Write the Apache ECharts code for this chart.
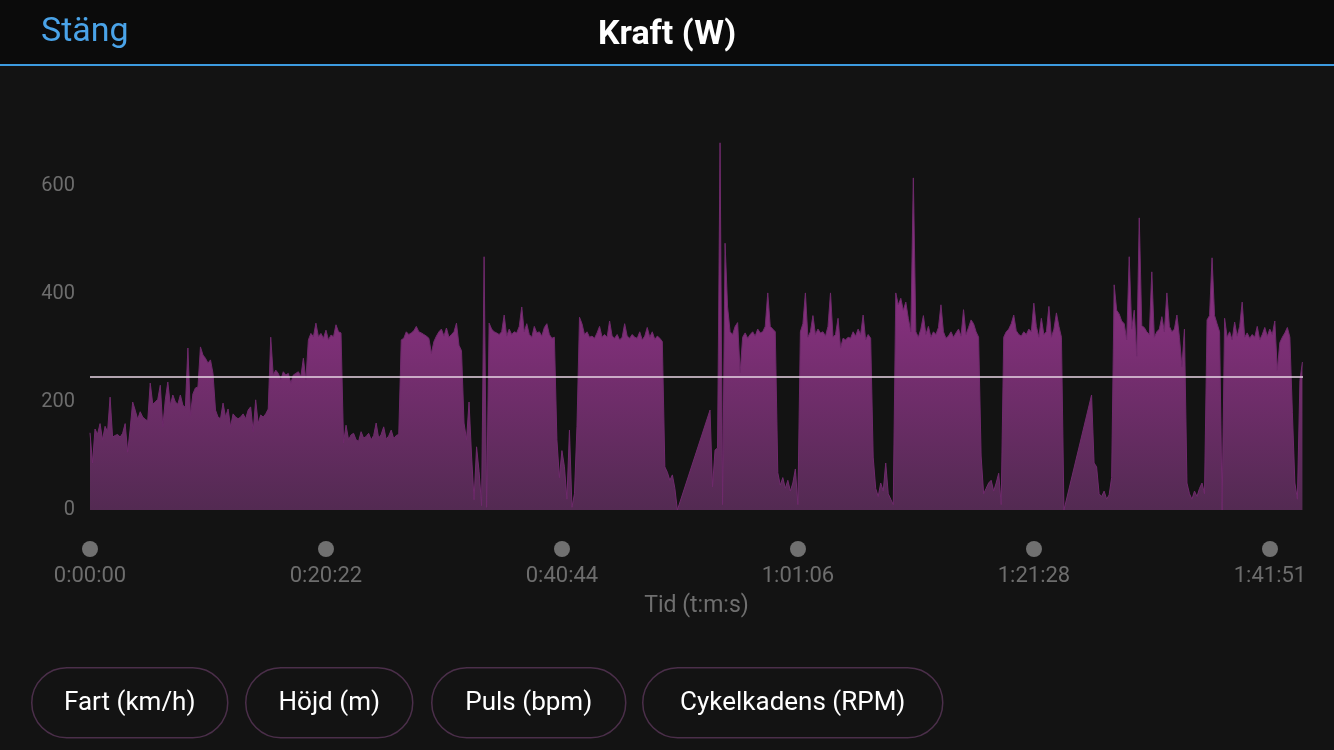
<!DOCTYPE html>
<html>
<head>
<meta charset="utf-8">
<script src="https://cdn.jsdelivr.net/npm/echarts@6/dist/echarts.min.js"></script>
<style>
html,body{margin:0;padding:0;background:#131313;}
#chart{width:1334px;height:750px;}
</style>
</head>
<body>
<div id="chart"></div>
<script>
// Sampling step of the recording (seconds between stored samples)
var sampleStepSec = 13;
// Power (W) per sample; null = no data (paused recording)
var watts = [
  143, 87, 150, 140, 160, 130, 155, 145, 209, 135,
  138, 140, 135, 142, 160, 107, 150, 200, 185, 168,
  182, 172, 168, 165, 235, 196, 200, 205, 231, 154,
  204, 237, 194, 213, 200, 196, 213, 194, 190, 300,
  175, 215, 226, 228, 302, 287, 281, 272, 278, 253,
  185, 172, 169, 198, 172, 187, 154, 178, 172, 169,
  172, 178, 169, 185, 191, 145, 204, 160, 176, 172,
  178, 187, 320, 250, 259, 253, 241, 256, 250, 253,
  235, 250, 253, 256, 247, 281, 241, 315, 327, 321,
  346, 321, 327, 318, 333, 315, 324, 321, 343, 330,
  328, 124, 157, 130, 139, 142, 130, 127, 145, 133,
  136, 142, 130, 138, 161, 133, 140, 154, 131, 137,
  148, 132, 138, 140, 315, 318, 330, 325, 328, 332,
  340, 330, 328, 325, 322, 318, 290, 312, 322, 330,
  335, 322, 337, 320, 325, 330, 346, 305, 295, 161,
  130, 200, 100, 19, 117, 71, 8, 469, 5, 346,
  335, 330, 328, 325, 330, 361, 322, 335, 325, 330,
  328, 340, 376, 330, 345, 325, 320, 340, 328, 330,
  322, 338, 345, 325, 318, 320, 130, 60, 110, 80,
  20, 148, 5, 30, 155, 357, 345, 325, 330, 320,
  322, 318, 328, 340, 320, 325, 320, 350, 322, 318,
  325, 315, 320, 345, 322, 318, 325, 320, 318, 330,
  315, 322, 338, 320, 330, 316, 322, 318, 312, 80,
  70, 55, 65, 40, 0, null, null, null, null, null,
  null, null, null, null, null, null, null, 185, 43, 111,
  115, 680, 10, 494, 376, 330, 325, 340, 347, 254,
  320, 328, 318, 325, 330, 322, 335, 328, 330, 340,
  402, 340, 335, 330, 69, 46, 60, 40, 55, 35,
  50, 76, 10, 330, 345, 402, 320, 330, 360, 325,
  335, 328, 330, 322, 340, 402, 320, 325, 355, 300,
  318, 315, 320, 318, 330, 322, 335, 325, 361, 315,
  325, 318, 98, 40, 25, 50, 35, 87, 30, 20,
  10, 402, 380, 392, 370, 385, 355, 330, 615, 330,
  320, 335, 360, 325, 340, 320, 330, 325, 338, 380,
  330, 318, 322, 330, 320, 328, 335, 322, 371, 325,
  338, 352, 345, 330, 320, 100, 30, 40, 50, 55,
  35, 50, 68, 10, 320, 330, 335, 345, 361, 332,
  325, 322, 330, 325, 335, 330, 383, 340, 320, 355,
  325, 330, 377, 320, 335, 365, 340, 320, 0, null,
  null, null, null, null, null, null, null, null, null, 213,
  87, 80, 30, 25, 35, 20, 28, 60, 417, 370,
  363, 350, 345, 315, 469, 335, 370, 285, 541, 341,
  338, 330, 325, 441, 320, 330, 335, 358, 330, 402,
  340, 330, 335, 361, 320, 265, 335, 50, 30, 20,
  35, 25, 40, 50, 30, 352, 360, 467, 360, 345,
  330, 0, 355, 320, 330, 315, 348, 322, 340, 385,
  320, 328, 318, 325, 320, 340, 315, 325, 338, 322,
  335, 325, 350, 259, 310, 320, 328, 338, 320, 180,
  50, 20, 240, 274
];
var averageWatts = 246;
var xMaxSec = 6282;
var xTickSec = 1222.2;
var yTicks = [0, 200, 400, 600];
var buttonLabels = ['Fart (km/h)', 'Höjd (m)', 'Puls (bpm)', 'Cykelkadens (RPM)'];
var titleText = 'Kraft (W)';
var closeText = 'Stäng';
var xAxisName = 'Tid (t:m:s)';

function fmtTime(sec) {
  var s = Math.floor(sec + 1e-6);
  var h = Math.floor(s / 3600);
  var m = Math.floor((s % 3600) / 60);
  var ss = s % 60;
  return h + ':' + (m < 10 ? '0' : '') + m + ':' + (ss < 10 ? '0' : '') + ss;
}

var seriesData = watts.map(function (w, i) { return [i * sampleStepSec, w]; });

var FONT = 'Roboto, "Open Sans", "Noto Sans", sans-serif';

var btnX = [31, 245, 431, 642];
var btnW = [196, 167, 194, 300];
var graphics = [
  { type: 'rect', left: 0, top: 0, z: -1, shape: { width: 1334, height: 64 }, style: { fill: '#0b0b0b' } },
  { type: 'rect', left: 0, top: 64, z: 10, shape: { width: 1334, height: 2 }, style: { fill: '#3d9be0' } },
  { type: 'text', left: 41, top: 15, style: { text: closeText, fill: '#4aa3e8', font: '400 34px ' + FONT } }
];
buttonLabels.forEach(function (lab, k) {
  graphics.push({
    type: 'group', left: btnX[k], top: 667,
    children: [
      { type: 'rect', shape: { x: 0, y: 0, width: btnW[k], height: 70, r: 35 },
        style: { fill: 'transparent', stroke: '#4b2f4a', lineWidth: 1.5 } },
      { type: 'text', x: btnW[k] / 2, y: 36,
        style: { text: lab, fill: '#ffffff', font: '400 26px ' + FONT, align: 'center', verticalAlign: 'middle' } }
    ]
  });
});

var chart = echarts.init(document.getElementById('chart'));
chart.setOption({
  backgroundColor: '#131313',
  animation: false,
  title: {
    text: titleText, left: 'center', top: 13,
    textStyle: { color: '#ffffff', fontSize: 34, fontWeight: 'bold', fontFamily: FONT }
  },
  graphic: graphics,
  grid: { left: 90, right: 31, top: 78, bottom: 240 },
  xAxis: {
    type: 'value', min: 0, max: xMaxSec, interval: xTickSec,
    name: xAxisName, nameLocation: 'middle', nameGap: 85,
    nameTextStyle: { color: '#6f6f6f', fontSize: 23, fontFamily: FONT },
    axisLine: { show: false }, axisTick: { show: false }, splitLine: { show: false },
    axisLabel: {
      margin: 31, showMaxLabel: false,
      formatter: function (v) { return '{d| }\n{t|' + fmtTime(v) + '}'; },
      rich: {
        d: { width: 16, height: 16, lineHeight: 16, backgroundColor: '#707070', borderRadius: 8, fontSize: 1 },
        t: { color: '#6d6d6d', fontSize: 22, lineHeight: 38, fontFamily: FONT }
      }
    }
  },
  yAxis: {
    type: 'value', min: 0, max: 800, interval: 200,
    axisLine: { show: false }, axisTick: { show: false }, splitLine: { show: false },
    axisLabel: {
      margin: 15, showMaxLabel: false, color: '#6d6d6d', fontSize: 20, fontFamily: FONT,
      padding: [3, 0, 0, 0],
      formatter: function (v) { return yTicks.indexOf(v) >= 0 ? String(v) : ''; }
    }
  },
  series: [{
    type: 'line',
    data: seriesData,
    connectNulls: true,
    symbol: 'none',
    lineStyle: { width: 1, color: '#6f2a6c' },
    areaStyle: {
      opacity: 1,
      color: {
        type: 'linear', x: 0, y: 300, x2: 0, y2: 510, global: true,
        colorStops: [
          { offset: 0, color: '#87307f' },
          { offset: 1, color: '#532a52' }
        ]
      }
    },
    markLine: {
      silent: true, symbol: 'none',
      label: { show: false },
      lineStyle: { color: '#e8d6e6', width: 1.5, type: 'solid' },
      data: [{ yAxis: averageWatts }]
    }
  }]
});
</script>
</body>
</html>
